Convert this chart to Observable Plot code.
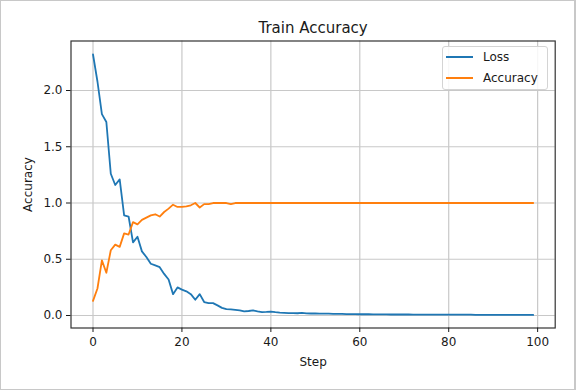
<!DOCTYPE html>
<html>
<head>
<meta charset="utf-8">
<script src="https://cdn.jsdelivr.net/npm/d3@7"></script>
<script src="https://cdn.jsdelivr.net/npm/@observablehq/plot@0.6"></script>
<style>
  html, body { margin: 0; padding: 0; background: #fff; }
  #wrap { position: relative; width: 576px; height: 390px; overflow: hidden; font-family: "DejaVu Sans", sans-serif; }
  #wrap svg { position: absolute; left: 0; top: 0; }
  .legend { position: absolute; box-sizing: border-box; border: 1px solid #d4d4d4; border-radius: 3px; background: rgba(255,255,255,0.85); }
  .legend .sw { position: absolute; height: 2px; }
  .legend .lb { position: absolute; font-size: 12px; line-height: 14px; color: #1a1a1a; white-space: nowrap; }
  .outer { position: absolute; left: 0; top: 0; width: 576px; height: 390px; box-sizing: border-box; border: 1px solid #c8c8c8; border-right-width: 2px; pointer-events: none; }
</style>
</head>
<body>
<div id="wrap"></div>
<script>
const titleText = "Train Accuracy";
const xLabel = "Step";
const yLabel = "Accuracy";
const seriesNames = ["Loss", "Accuracy"];
const seriesColors = ["#1f77b4", "#ff7f0e"];
const xTicks = [0, 20, 40, 60, 80, 100];
const yTicks = [0.0, 0.5, 1.0, 1.5, 2.0];
const steps = d3.range(100);

const loss = [
  2.32, 2.08, 1.79, 1.72, 1.26, 1.16, 1.21, 0.89, 0.88, 0.65,
  0.70, 0.57, 0.52, 0.46, 0.445, 0.43, 0.37, 0.32, 0.19, 0.25,
  0.23, 0.215, 0.19, 0.14, 0.19, 0.12, 0.11, 0.11, 0.09, 0.068,
  0.056, 0.055, 0.05, 0.045, 0.036, 0.04, 0.045, 0.036, 0.03, 0.032,
  0.035, 0.03, 0.026, 0.024, 0.022, 0.022, 0.02, 0.023, 0.019, 0.018,
  0.018, 0.017, 0.016, 0.017, 0.015, 0.014, 0.014, 0.013, 0.012, 0.012,
  0.011, 0.011, 0.011, 0.010, 0.010, 0.010, 0.010, 0.009, 0.009, 0.009,
  0.009, 0.009, 0.008, 0.008, 0.008, 0.008, 0.008, 0.008, 0.007, 0.007,
  0.007, 0.007, 0.007, 0.007, 0.007, 0.007, 0.006, 0.006, 0.006, 0.006,
  0.006, 0.006, 0.006, 0.006, 0.006, 0.006, 0.005, 0.005, 0.005, 0.005
];

const accuracy = [
  0.13, 0.24, 0.49, 0.38, 0.58, 0.63, 0.61, 0.73, 0.72, 0.83,
  0.81, 0.85, 0.87, 0.89, 0.90, 0.88, 0.92, 0.95, 0.985, 0.965,
  0.965, 0.97, 0.98, 1.0, 0.96, 0.99, 0.99, 1.0, 1.0, 1.0,
  1.0, 0.99, 1.0, 1.0, 1.0, 1.0, 1.0, 1.0, 1.0, 1.0,
  1.0, 1.0, 1.0, 1.0, 1.0, 1.0, 1.0, 1.0, 1.0, 1.0,
  1.0, 1.0, 1.0, 1.0, 1.0, 1.0, 1.0, 1.0, 1.0, 1.0,
  1.0, 1.0, 1.0, 1.0, 1.0, 1.0, 1.0, 1.0, 1.0, 1.0,
  1.0, 1.0, 1.0, 1.0, 1.0, 1.0, 1.0, 1.0, 1.0, 1.0,
  1.0, 1.0, 1.0, 1.0, 1.0, 1.0, 1.0, 1.0, 1.0, 1.0,
  1.0, 1.0, 1.0, 1.0, 1.0, 1.0, 1.0, 1.0, 1.0, 1.0
];

const seriesValues = [loss, accuracy];
const rows = [];
seriesNames.forEach((name, k) => {
  steps.forEach((s, i) => rows.push({ step: s, value: seriesValues[k][i], series: name }));
});

const chart = Plot.plot({
  width: 576,
  height: 390,
  marginTop: 40.5,
  marginRight: 21.3,
  marginBottom: 62.5,
  marginLeft: 70.5,
  x: { domain: [-4.95, 103.95] },
  y: { domain: [-0.111, 2.44] },
  color: { domain: seriesNames, range: seriesColors },
  style: { fontFamily: "DejaVu Sans, sans-serif", fontSize: "12px", color: "#1a1a1a", background: "white" },
  marks: [
    Plot.gridX(xTicks, { stroke: "#c8c8c8", strokeOpacity: 1, strokeWidth: 1.2 }),
    Plot.gridY(yTicks, { stroke: "#c8c8c8", strokeOpacity: 1, strokeWidth: 1.2 }),
    Plot.line(rows, { x: "step", y: "value", z: "series", stroke: "series", strokeWidth: 1.8 }),
    Plot.frame({ stroke: "#333", strokeWidth: 1.2 }),
    Plot.axisX(xTicks, { tickSize: 4.5, tickPadding: 5, label: null, tickFormat: d => String(d), fontSize: 12 }),
    Plot.axisY(yTicks, { tickSize: 4.5, tickPadding: 4, label: null, tickFormat: d3.format(".1f"), fontSize: 12 }),
    Plot.text([titleText], { text: d => d, frameAnchor: "top", dy: -13, fontSize: 15, lineAnchor: "middle", textAnchor: "middle" }),
    Plot.text([xLabel], { text: d => d, frameAnchor: "bottom", dy: 34, fontSize: 12, lineAnchor: "middle", textAnchor: "middle" }),
    Plot.text([yLabel], { text: d => d, frameAnchor: "left", dx: -42.5, rotate: -90, fontSize: 12, lineAnchor: "middle", textAnchor: "middle" })
  ]
});

const wrap = document.getElementById("wrap");
wrap.appendChild(chart);

// legend
const legend = document.createElement("div");
legend.className = "legend";
Object.assign(legend.style, { left: "441.5px", top: "46px", width: "106.5px", height: "43.5px" });
seriesNames.forEach((name, k) => {
  const cy = 57.3 + k * 20.4 - 46 - 1;
  const sw = document.createElement("div");
  sw.className = "sw";
  Object.assign(sw.style, { left: (446 - 441.5 - 1) + "px", width: "27px", top: (cy - 1) + "px", background: seriesColors[k] });
  const lb = document.createElement("div");
  lb.className = "lb";
  lb.textContent = name;
  Object.assign(lb.style, { left: (483 - 441.5 - 1) + "px", top: (cy - 7) + "px" });
  legend.appendChild(sw);
  legend.appendChild(lb);
});
wrap.appendChild(legend);

const outer = document.createElement("div");
outer.className = "outer";
wrap.appendChild(outer);
</script>
</body>
</html>
